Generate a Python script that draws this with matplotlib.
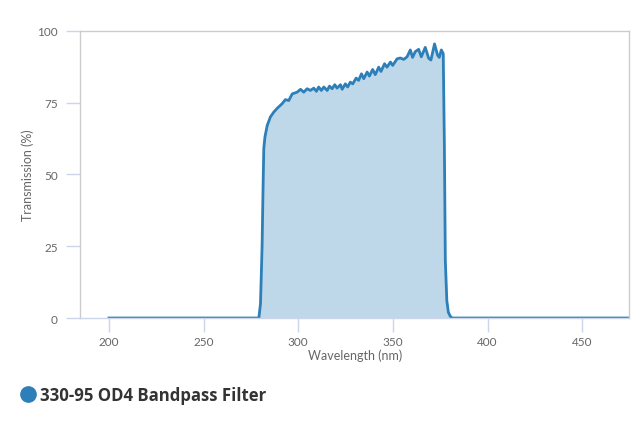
import matplotlib
matplotlib.use("Agg")
import matplotlib.pyplot as plt
from matplotlib.lines import Line2D

# wavelength (nm) / transmission (%)
wavelength = [
    200, 250, 279.2, 280.05, 280.9, 281.4, 281.8, 282.4, 283.6, 285.3,
    287.1, 288.9, 291.5, 293.2, 295.0, 296.8, 299.4, 301.2, 302.9, 304.7,
    306.4, 308.2, 309.6, 310.8, 312.2, 313.5, 315.3, 316.5, 317.9, 319.3,
    320.5, 322.3, 323.2, 324.9, 326.1, 327.5, 328.8, 330.6, 331.9, 333.4,
    334.6, 336.4, 337.6, 339.3, 340.7, 342.5, 343.7, 345.6, 346.9, 348.7,
    349.9, 352.2, 353.9, 355.7, 357.5, 359.2, 360.4, 361.8, 363.6, 365.0,
    367.1, 368.9, 370.1, 372.0, 373.6, 374.5, 375.6, 376.6, 377.2, 377.7,
    378.5, 379.3, 380.4, 381.4, 400, 450, 480,
]
transmission = [
    0, 0, 0, 5, 25, 45, 59, 63, 67, 70,
    71.7, 73, 74.6, 76, 75.7, 78, 78.6, 79.6, 78.6, 79.8,
    79.2, 80.0, 78.9, 80.4, 79.2, 80.4, 79.2, 80.7, 79.8, 81.2,
    80.0, 81.2, 79.6, 81.5, 80.4, 82.1, 81.5, 83.5, 82.7, 85.0,
    83.3, 85.6, 84.2, 86.5, 84.7, 87.3, 85.8, 88.5, 87.3, 89.1,
    87.9, 90.2, 90.5, 90.0, 90.9, 93.3, 90.7, 92.7, 93.5, 90.9,
    94.2, 90.4, 89.8, 95.4, 91.5, 90.7, 93.3, 92.0, 60, 20,
    6, 2, 0.5, 0, 0, 0, 0,
]
series_name = "330-95 OD4 Bandpass Filter"
x_ticks = [200, 250, 300, 350, 400, 450]
y_ticks = [0, 25, 50, 75, 100]

line_color = "#2c7fb8"
text_color = "#666666"
axis_color = "#ccd6eb"

plt.rcParams["font.family"] = ["Lato", "DejaVu Sans"]

fig = plt.figure(figsize=(6.4, 4.27), dpi=100)
ax = fig.add_axes([0.125, 0.2529, 0.8583, 0.6729])

ax.fill_between(wavelength, transmission, 0, color=line_color, alpha=0.3, linewidth=0)
ax.plot(wavelength, transmission, color=line_color, linewidth=2, solid_joinstyle="round")

ax.set_xlim(184.7, 474.9)
ax.set_ylim(0, 100)
ax.set_xticks(x_ticks)
ax.set_yticks(y_ticks)

for side in ["left", "top", "right"]:
    ax.spines[side].set_color("#cccccc")
    ax.spines[side].set_linewidth(1)
ax.spines["bottom"].set_color(axis_color)
ax.spines["bottom"].set_linewidth(1)

ax.tick_params(axis="both", direction="out", length=10, width=1, color=axis_color,
               labelcolor=text_color, labelsize=8.5)
ax.tick_params(axis="y", pad=6)
ax.tick_params(axis="x", pad=3)

ax.set_xlabel("Wavelength (nm)", color=text_color, fontsize=9, labelpad=1)
ax.set_ylabel("Transmission (%)", color=text_color, fontsize=9, labelpad=2)

handle = Line2D([], [], marker="o", linestyle="", color=line_color, markersize=11)
leg = fig.legend([handle], [series_name], loc="center left",
                 bbox_to_anchor=(0.0, 0.072), frameon=False,
                 handletextpad=0.0, handlelength=1.5,
                 prop={"family": ["Open Sans", "DejaVu Sans"], "weight": "bold", "size": 12.1})
for t in leg.get_texts():
    t.set_color("#333333")

fig.savefig("out.png", dpi=100)
